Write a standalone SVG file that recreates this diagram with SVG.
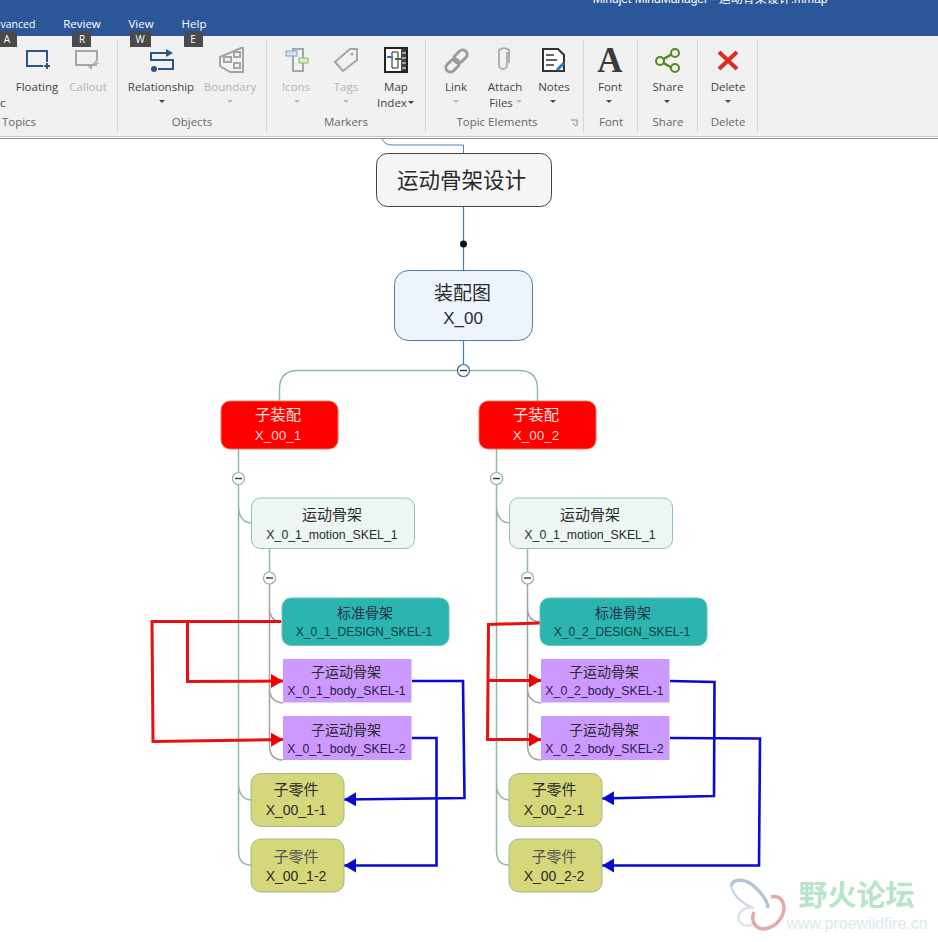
<svg xmlns="http://www.w3.org/2000/svg" width="938" height="942" viewBox="0 0 938 942">
<style>
text{font-family:"Liberation Sans","Noto Sans CJK SC",sans-serif;text-anchor:middle}
.ui{font-family:"Open Sans","Noto Sans",sans-serif;font-size:11.5px;fill:#444}
.dim{fill:#b4b4b4}
.grp{fill:#666}
.tab{fill:#fff;font-size:11.5px;font-family:"Open Sans","Noto Sans",sans-serif}
.key{fill:#fff;font-size:10px;font-family:"Open Sans","Noto Sans",sans-serif}
.keybox{fill:#4a4a4a}
.sep{stroke:#d6d6d6;stroke-width:1;fill:none}
.icon{fill:none;stroke:#2b5587;stroke-width:2}
.gi{fill:none;stroke:#a5a5a5;stroke-width:2}
.caret{fill:#444}
.caretd{fill:#b9b9b9}
.n2{font-size:12.300px;fill:#2a2a2a}
.lk{fill:none;stroke:#93b8a6;stroke-width:1.500}
.lg{fill:none;stroke:#a3a3a3;stroke-width:1.500}
.red{fill:none;stroke:#e81010;stroke-width:3}
.blue{fill:none;stroke:#0a0ad0;stroke-width:2.600}
.tog{fill:#fff;stroke:#8fb3a2;stroke-width:1.200}
.togm{stroke:#333;stroke-width:1.400}
.yel{fill:#d6d77b;stroke:#9cbb8e;stroke-width:1}
.pur{fill:#cc99ff}
.teal{fill:#2cb5b0;stroke:#6cc0ba;stroke-width:1}
.redn{fill:#fe0000;stroke:#e8745a;stroke-width:1}
.pale{fill:#edf6f2;stroke:#93c4a8;stroke-width:1}
</style>
<defs>
<marker id="ar" markerUnits="userSpaceOnUse" markerWidth="13" markerHeight="16" refX="12" refY="7" orient="auto"><path d="M0 0L12 7L0 14Z" fill="#f00000"/></marker>
<marker id="ab" markerUnits="userSpaceOnUse" markerWidth="13" markerHeight="16" refX="12" refY="7" orient="auto"><path d="M0 0L12 7L0 14Z" fill="#0a0ad0"/></marker>
</defs>
<rect width="938" height="942" fill="#fff"/>
<g id="ribbon">
<rect width="938" height="36" fill="#2b579a"/>
<rect y="36" width="938" height="100" fill="#f1f1f1"/>
<rect y="136" width="938" height="1" fill="#c4c4c4"/>
<rect y="138" width="938" height="1" fill="#8a8a8a"/>
<text x="710" y="3" fill="#fff" style="font-size:12px">Mindjet MindManager - 运动骨架设计.mmap</text>
<text x="0.500" y="28" class="tab" style="text-anchor:start;font-size:10.500px">vanced</text>
<text x="82" y="28" class="tab">Review</text>
<text x="141" y="28" class="tab">View</text>
<text x="194" y="28" class="tab">Help</text>
<rect x="0" y="31" width="17" height="16" class="keybox"/><text x="7" y="43" class="key">A</text>
<rect x="72" y="31" width="19" height="16" class="keybox"/><text x="82" y="43" class="key">R</text>
<rect x="130" y="31" width="21" height="16" class="keybox"/><text x="140" y="43" class="key">W</text>
<rect x="184" y="31" width="19" height="16" class="keybox"/><text x="193" y="43" class="key">E</text>
<path class="sep" d="M117.500 40V132M266.500 40V132M425.500 40V132M583.500 40V132M637.500 40V132M697.500 40V132M757.500 40V132"/>
<path d="M47 62V51H27V66H43M44 66H50M47 63V69" fill="none" stroke="#2b5587" stroke-width="2"/>
<path d="M97 61V51H76V65H97" class="gi"/><path d="M88 66l4 4v-4z" fill="#a5a5a5"/><path d="M93 63h6M96 60v6" stroke="#9db7cf" stroke-width="1.500" fill="none"/>
<text x="37" y="91" class="ui">Floating</text>
<text x="88" y="91" class="ui dim">Callout</text>
<text x="0" y="107" class="ui" style="text-anchor:start">c</text>
<text x="19" y="126" class="ui grp">Topics</text>
<path d="M171 53H151V60H173V69H158" class="icon"/><path d="M166 49l7 4l-7 4z" fill="#2b5587"/><circle cx="154" cy="69" r="3" fill="#2b5587"/>
<path d="M220 57L241 48H243V72H230L220 66Z" class="gi"/><rect x="224" y="57" width="7" height="5" class="gi" stroke-width="1"/><rect x="234" y="52" width="6" height="5" class="gi"/><rect x="234" y="63" width="6" height="5" class="gi"/>
<text x="161" y="91" class="ui">Relationship</text>
<text x="230" y="91" class="ui dim">Boundary</text>
<path d="M159 100h6l-3 3z" class="caret"/><path d="M227 100h6l-3 3z" class="caretd"/>
<text x="192" y="126" class="ui grp">Objects</text>
<path d="M293 49H303V71H293Z" class="gi"/><rect x="286" y="51" width="11" height="5" fill="#d5e3ef" stroke="#7ea5c5"/><rect x="299" y="58" width="9" height="5" fill="#d8ecc8" stroke="#8dbb6b"/>
<path d="M335 62L350 49H357V60L343 71Z" class="gi"/><circle cx="352" cy="54" r="1.500" fill="#a5a5a5"/>
<rect x="385" y="48" width="22" height="24" fill="#fff" stroke="#222" stroke-width="2"/><rect x="401" y="49" width="5" height="22" fill="#444"/><path d="M402 53h4M402 58h4M402 63h4M402 68h4" stroke="#fff"/><path d="M392 52V68H398V52Z" fill="none" stroke="#222"/><path d="M387 57h6" stroke="#2f75b5" stroke-width="2"/><path d="M395 59h7" stroke="#2b7a2b" stroke-width="2"/>
<text x="296" y="91" class="ui dim">Icons</text>
<text x="346" y="91" class="ui dim">Tags</text>
<text x="396" y="91" class="ui">Map</text>
<text x="392" y="107" class="ui">Index</text>
<path d="M294 100h6l-3 3z" class="caretd"/><path d="M343 100h6l-3 3z" class="caretd"/><path d="M408 101h6l-3 3z" class="caret"/>
<text x="346" y="126" class="ui grp">Markers</text>
<g fill="none" stroke="#9a9a9a" stroke-width="3"><rect x="445" y="61" width="15" height="9" rx="4.500" transform="rotate(-45 452.500 65.500)"/><rect x="453" y="52" width="15" height="9" rx="4.500" transform="rotate(-45 460.500 56.500)"/></g>
<path d="M510 54V67a4 4 0 0 1-8 0V52a6 4 0 0 1 10 0V65" transform="translate(-3 -2)" fill="none" stroke="#aaa" stroke-width="1.800"/>
<path d="M543 49H558L564 55V71H543Z" fill="#fff" stroke="#333" stroke-width="2"/><path d="M546 55h8M546 60h11M546 65h8" stroke="#333" stroke-width="1.500"/><path d="M557 70l7-7" stroke="#2f75b5" stroke-width="3"/>
<text x="456" y="91" class="ui">Link</text>
<text x="505" y="91" class="ui">Attach</text>
<text x="501" y="107" class="ui">Files</text>
<text x="554" y="91" class="ui">Notes</text>
<path d="M453 100h6l-3 3z" class="caretd"/><path d="M516 100h6l-3 3z" class="caretd"/><path d="M550 100h6l-3 3z" class="caret"/>
<text x="497" y="126" class="ui grp">Topic Elements</text>
<path d="M571 120h6v6M573 123l3 3" fill="none" stroke="#888"/>
<text x="610" y="72" style="font-family:'Liberation Serif',serif;font-size:35px;font-weight:bold" fill="#3a3a3a">A</text>
<text x="610" y="91" class="ui">Font</text>
<path d="M606 100h6l-3 3z" class="caret"/>
<text x="611" y="126" class="ui grp">Font</text>
<path d="M674 53L660 61L674 69" fill="none" stroke="#4e8a1e" stroke-width="2.500"/><circle cx="675" cy="53" r="4" fill="#f1f1f1" stroke="#4e8a1e" stroke-width="2"/><circle cx="660" cy="61" r="4" fill="#f1f1f1" stroke="#4e8a1e" stroke-width="2"/><circle cx="675" cy="68" r="4" fill="#f1f1f1" stroke="#4e8a1e" stroke-width="2"/>
<text x="668" y="91" class="ui">Share</text>
<path d="M664 100h6l-3 3z" class="caret"/>
<text x="668" y="126" class="ui grp">Share</text>
<path d="M719 52L737 69M737 52L719 69" stroke="#e02b20" stroke-width="4" fill="none"/>
<text x="728" y="91" class="ui">Delete</text>
<path d="M725 100h6l-3 3z" class="caret"/>
<text x="728" y="126" class="ui grp">Delete</text>
</g>
<g id="connectors">
<path d="M382 139Q385 145 392 145H463.500V153" fill="none" stroke="#4d84b8" stroke-width="1"/>
<path d="M463.500 207V270M463.500 341V365" fill="none" stroke="#3f80b8" stroke-width="1.200"/>
<circle cx="463.500" cy="244" r="3.500" fill="#111"/>
<path class="lk" d="M279.500 401V389Q279.500 370.500 298 370.500H519Q537.500 370.500 537.500 389V401"/>
<path class="lk" d="M238.500 449V472M238.500 484V851Q238.500 865 251 865M238.500 505Q238.500 522 251 523M238.500 783Q238.500 799 251 800"/>
<path class="lk" d="M496.500 449V472M496.500 484V851Q496.500 865 509 865M496.500 505Q496.500 522 509 523M496.500 783Q496.500 799 509 800"/>
<path class="lk" d="M269.500 549V572M527.500 549V572"/>
<path class="lg" d="M269.500 584V745Q269.500 760 283 760M269.500 608Q269.500 621 282 622M269.500 688Q269.500 702 283 703"/>
<path class="lg" d="M527.500 584V745Q527.500 760 541 760M527.500 608Q527.500 621 540 622M527.500 688Q527.500 702 541 703"/>
<path class="red" d="M281 621.500H152L153 741.500L283 739.500" marker-end="url(#ar)"/>
<path class="red" d="M187.500 621.500V681.500L283 681" marker-end="url(#ar)"/>
<path class="red" d="M540 623L488.500 624.500L487.500 739.500H541" marker-end="url(#ar)"/>
<path class="red" d="M488.500 680.500H541" marker-end="url(#ar)"/>
<path class="blue" d="M412 681H463L464.500 798L344 799.500" marker-end="url(#ab)"/>
<path class="blue" d="M412 738H436.500V865.500H344" marker-end="url(#ab)"/>
<path class="blue" d="M670 681L714.500 682L714 796L602 798.500" marker-end="url(#ab)"/>
<path class="blue" d="M670 738L760 738.500L759 865.500H602" marker-end="url(#ab)"/>
<g><circle cx="463.500" cy="370.500" r="6" fill="#fff" stroke="#2d6a9f" stroke-width="1.200"/><path class="togm" d="M460 370.500h7"/></g>
<g><circle class="tog" cx="238.500" cy="478.500" r="6"/><path class="togm" d="M235 478.500h7"/></g>
<g><circle class="tog" cx="496.500" cy="478.500" r="6"/><path class="togm" d="M493 478.500h7"/></g>
<g><circle class="tog" cx="269.500" cy="578" r="6"/><path class="togm" d="M266 578h7"/></g>
<g><circle class="tog" cx="527.500" cy="578" r="6"/><path class="togm" d="M524 578h7"/></g>
</g>
<g id="root"><rect x="376.500" y="153.500" width="175" height="53" rx="11" fill="#f5f5f5" stroke="#444"/><text x="461.500" y="188" style="font-size:21.500px" fill="#2a2a2a">运动骨架设计</text></g>
<g id="asm"><rect x="394.500" y="270.500" width="138" height="70" rx="14" fill="#eef4fb" stroke="#3f7fb5"/><text x="462.500" y="300" style="font-size:19px" fill="#2a2a2a">装配图</text><text x="463" y="324" style="font-size:17px" fill="#2a2a2a">X_00</text></g>
<g id="sub1"><rect class="redn" x="221" y="401" width="117" height="48" rx="9"/><text x="278" y="420" style="font-size:15.300px;fill:#ffe4dc">子装配</text><text x="278" y="440" style="font-size:13.500px;fill:#ffd9cf">X_00_1</text></g>
<g id="sub2"><rect class="redn" x="479" y="401" width="117" height="48" rx="9"/><text x="536" y="420" style="font-size:15.300px;fill:#ffe4dc">子装配</text><text x="536" y="440" style="font-size:13.500px;fill:#ffd9cf">X_00_2</text></g>
<g id="motion1"><rect class="pale" x="251.500" y="498" width="163" height="50.500" rx="9"/><text x="332" y="520" style="font-size:15px" fill="#2a2a2a">运动骨架</text><text x="332" y="539" class="n2">X_0_1_motion_SKEL_1</text></g>
<g id="motion2"><rect class="pale" x="509.500" y="498" width="163" height="50.500" rx="9"/><text x="590" y="520" style="font-size:15px" fill="#2a2a2a">运动骨架</text><text x="590" y="539" class="n2">X_0_1_motion_SKEL_1</text></g>
<g id="design1"><rect class="teal" x="282" y="598" width="167" height="47.500" rx="9"/><text x="365" y="618" style="font-size:14px" fill="#234">标准骨架</text><text x="364" y="636" class="n2" style="fill:#0f3f3f;font-size:12.100px">X_0_1_DESIGN_SKEL-1</text></g>
<g id="design2"><rect class="teal" x="540" y="598" width="167" height="47.500" rx="9"/><text x="623" y="618" style="font-size:14px" fill="#234">标准骨架</text><text x="622" y="636" class="n2" style="fill:#0f3f3f;font-size:12.100px">X_0_2_DESIGN_SKEL-1</text></g>
<g id="body11"><rect class="pur" x="283" y="659" width="128.500" height="43.500"/><text x="346" y="677" style="font-size:14px" fill="#2a2a2a">子运动骨架</text><text x="346.500" y="695" class="n2" style="fill:#2b1b4f">X_0_1_body_SKEL-1</text></g>
<g id="body12"><rect class="pur" x="283" y="716" width="128.500" height="44"/><text x="346" y="735" style="font-size:14px" fill="#2a2a2a">子运动骨架</text><text x="346.500" y="753" class="n2" style="fill:#2b1b4f">X_0_1_body_SKEL-2</text></g>
<g id="body21"><rect class="pur" x="541" y="659" width="128.500" height="43.500"/><text x="604" y="677" style="font-size:14px" fill="#2a2a2a">子运动骨架</text><text x="604.500" y="695" class="n2" style="fill:#2b1b4f">X_0_2_body_SKEL-1</text></g>
<g id="body22"><rect class="pur" x="541" y="716" width="128.500" height="44"/><text x="604" y="735" style="font-size:14px" fill="#2a2a2a">子运动骨架</text><text x="604.500" y="753" class="n2" style="fill:#2b1b4f">X_0_2_body_SKEL-2</text></g>
<g id="part11"><rect class="yel" x="251" y="773.500" width="93" height="53" rx="10"/><text x="296" y="795" style="font-size:15px" fill="#2a2a2a">子零件</text><text x="296" y="815" style="font-size:14px" fill="#2a2a2a">X_00_1-1</text></g>
<g id="part12"><rect class="yel" x="251" y="839" width="93" height="53" rx="10"/><text x="296" y="862" style="font-size:15px" fill="#555">子零件</text><text x="296" y="881" style="font-size:14px" fill="#2a2a2a">X_00_1-2</text></g>
<g id="part21"><rect class="yel" x="509" y="773.500" width="93" height="53" rx="10"/><text x="554" y="795" style="font-size:15px" fill="#2a2a2a">子零件</text><text x="554" y="815" style="font-size:14px" fill="#2a2a2a">X_00_2-1</text></g>
<g id="part22"><rect class="yel" x="509" y="839" width="93" height="53" rx="10"/><text x="554" y="862" style="font-size:15px" fill="#555">子零件</text><text x="554" y="881" style="font-size:14px" fill="#2a2a2a">X_00_2-2</text></g>
<g id="watermark">
<path d="M731 886C733 878 746 878 756 888C764 896 768 902 768 908" fill="none" stroke="#b4c4d4" stroke-width="3.500"/>
<path d="M731 886C733 896 744 904 752 908" fill="none" stroke="#c8d2dc" stroke-width="2"/>
<path d="M771 897C782 894 787 906 782 916C776 928 762 932 756 926C752 922 752 916 754 912" fill="none" stroke="#e8a8a8" stroke-width="3.500"/>
<path d="M754 908C740 906 734 918 742 924C746 926 750 926 752 924" fill="none" stroke="#dde2e8" stroke-width="2.500"/>
<text x="856.500" y="906" style="font-size:29px;font-weight:bold" fill="#b8e4cc">野火论坛</text>
<text x="857" y="929" style="font-size:16px" fill="#dbe9ee">www.proewildfire.cn</text>
</g>
</svg>
